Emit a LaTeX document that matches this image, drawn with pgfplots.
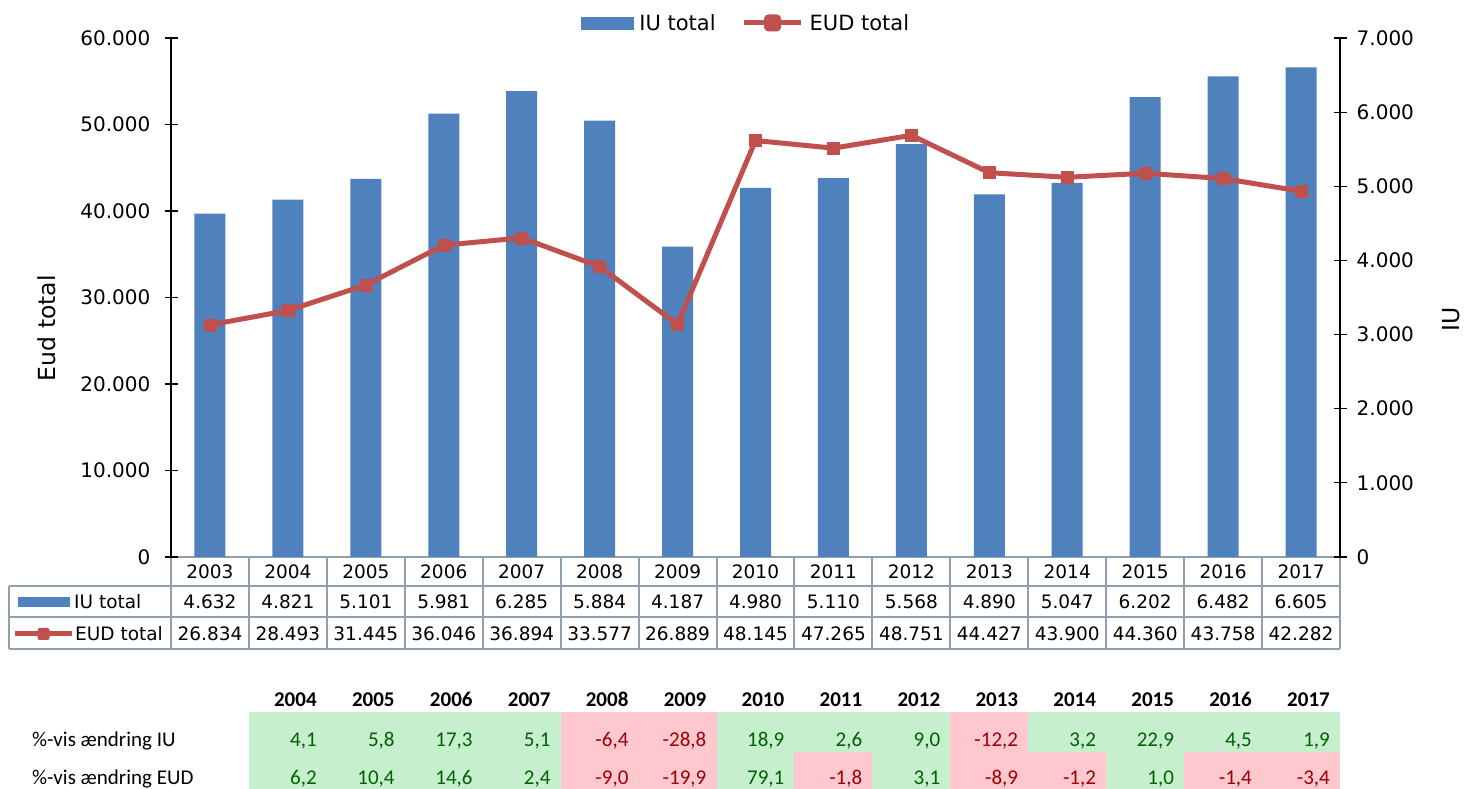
\documentclass[border=0pt]{standalone}
\usepackage{fontspec}
\setmainfont{DejaVu Sans}
\newfontfamily\calib{Carlito}
\usepackage{pgfplots}
\pgfplotsset{compat=1.18}
\definecolor{barblue}{HTML}{4F81BD}
\definecolor{linered}{HTML}{C0504D}
\definecolor{tgrid}{HTML}{8EA0B0}
\definecolor{gbg}{HTML}{C6EFCE}
\definecolor{gtx}{HTML}{006100}
\definecolor{rbg}{HTML}{FFC7CE}
\definecolor{rtx}{HTML}{9C0006}
\pgfplotsset{
  common/.style={
    at={(171pt,232pt)}, anchor=south west, scale only axis,
    width=1169pt, height=519pt,
    xmin=-0.5, xmax=14.5, ymin=0, hide x axis,
    tick align=center, major tick length=13pt,
    axis line style={black, line width=1.2pt},
    every tick/.style={black, line width=1.2pt},
    scaled y ticks=false,
    y tick label style={font=\fontsize{20}{24}\selectfont, inner sep=0pt,
      /pgf/number format/fixed, /pgf/number format/precision=0,
      /pgf/number format/1000 sep={.}, /pgf/number format/assume math mode=true},
  }
}
\begin{document}
\begin{tikzpicture}
\useasboundingbox (0,0) rectangle (1464pt,789pt);
% ---- percent change table ----
\begin{scope}[x=1pt,y=-1pt,yshift=789pt]
\foreach \v [count=\i] in {4.1,5.8,17.3,5.1,-6.4,-28.8,18.9,2.6,9.0,-12.2,3.2,22.9,4.5,1.9} {
  \pgfmathsetmacro\neg{\v<0 ? 1 : 0}
  \ifdim\neg pt>0.5pt \def\bg{rbg}\def\tx{rtx}\else\def\bg{gbg}\def\tx{gtx}\fi
  \fill[\bg] ({171+77.933*\i},712) rectangle ({171+77.933*(\i+1)},752);
  \node[anchor=base east, text=\tx, inner sep=0pt, font=\calib\fontsize{21}{25}\selectfont]
    at ({171+77.933*(\i+1)-10},746.5)
    {\pgfmathprintnumber[fixed,fixed zerofill,precision=1,use comma,assume math mode=true]{\v}};
}
\foreach \v [count=\i] in {6.2,10.4,14.6,2.4,-9.0,-19.9,79.1,-1.8,3.1,-8.9,-1.2,1.0,-1.4,-3.4} {
  \pgfmathsetmacro\neg{\v<0 ? 1 : 0}
  \ifdim\neg pt>0.5pt \def\bg{rbg}\def\tx{rtx}\else\def\bg{gbg}\def\tx{gtx}\fi
  \fill[\bg] ({171+77.933*\i},752) rectangle ({171+77.933*(\i+1)},800);
  \node[anchor=base east, text=\tx, inner sep=0pt, font=\calib\fontsize{21}{25}\selectfont]
    at ({171+77.933*(\i+1)-10},784.5)
    {\pgfmathprintnumber[fixed,fixed zerofill,precision=1,use comma,assume math mode=true]{\v}};
}
\foreach \y [count=\i] in {2004,2005,2006,2007,2008,2009,2010,2011,2012,2013,2014,2015,2016,2017} {
  \node[anchor=base east, inner sep=0pt, font=\calib\bfseries\fontsize{21}{25}\selectfont]
    at ({171+77.933*(\i+1)-10},706.5) {\y};
}
\node[anchor=base west, inner sep=0pt, font=\calib\fontsize{21}{25}\selectfont] at (32,746.5) {\%-vis ændring IU};
\node[anchor=base west, inner sep=0pt, font=\calib\fontsize{21}{25}\selectfont] at (32,784.5) {\%-vis ændring EUD};
% ---- data table ----
\foreach \y [count=\i from 0] in {2003,2004,2005,2006,2007,2008,2009,2010,2011,2012,2013,2014,2015,2016,2017} {
  \node[anchor=base, font=\fontsize{18.5}{22}\selectfont, inner sep=0pt] at ({171+77.933*(\i+0.5)},579) {\y};
}
\foreach \y [count=\i from 0] in {4.632,4.821,5.101,5.981,6.285,5.884,4.187,4.980,5.110,5.568,4.890,5.047,6.202,6.482,6.605} {
  \node[anchor=base, font=\fontsize{18.5}{22}\selectfont, inner sep=0pt] at ({171+77.933*(\i+0.5)},609) {\y};
}
\foreach \y [count=\i from 0] in {26.834,28.493,31.445,36.046,36.894,33.577,26.889,48.145,47.265,48.751,44.427,43.900,44.360,43.758,42.282} {
  \node[anchor=base, font=\fontsize{18.5}{22}\selectfont, inner sep=0pt] at ({171+77.933*(\i+0.5)},641) {\y};
}
\draw[tgrid, line width=2pt] (171,557) -- (1340,557);
\draw[tgrid, line width=2pt] (9,586) -- (1340,586);
\draw[tgrid, line width=2pt] (9,617) -- (1340,617);
\draw[tgrid, line width=2pt] (9,649) -- (1340,649);
\draw[tgrid, line width=2pt] (9,586) -- (9,649);
\foreach \k in {0,...,15} { \draw[tgrid, line width=2pt] ({171+77.933*\k},557) -- ({171+77.933*\k},649); }
\fill[barblue] (18,597) rectangle (70,607);
\node[anchor=base west, inner sep=0pt, font=\fontsize{18.5}{22}\selectfont] at (74,609) {IU total};
\draw[linered, line width=5pt] (15,634) -- (72,634);
\fill[linered, rounded corners=2pt] (37.5,628) rectangle (49.5,640);
\node[anchor=base west, inner sep=0pt, font=\fontsize{18.5}{22}\selectfont] at (75,641) {EUD total};
\end{scope}
% ---- bars on the right axis ----
\begin{axis}[common, ymax=7000, axis y line*=right, ybar, bar width=31pt,
  ytick={0,1000,...,7000},
  ylabel={IU},
  ylabel style={at={(axis description cs:1.095,0.457)}, anchor=center, font=\fontsize{23.5}{28}\selectfont},
  yticklabel style={xshift=10pt}]
\addplot[fill=barblue, draw=none] coordinates {
 (0,4632) (1,4821) (2,5101) (3,5981) (4,6285) (5,5884) (6,4187) (7,4980)
 (8,5110) (9,5568) (10,4890) (11,5047) (12,6202) (13,6482) (14,6605)};
\end{axis}
% ---- line on the left axis ----
\begin{axis}[common, ymax=60000, axis y line*=left,
  ytick={0,10000,...,60000},
  ylabel={Eud total},
  ylabel style={at={(axis description cs:-0.1065,0.441)}, anchor=center, font=\fontsize{23.5}{28}\selectfont},
  yticklabel style={xshift=-14pt},
  legend style={at={(axis description cs:0.3507,1.029)}, anchor=west, draw=none, fill=none,
    inner sep=0pt, outer sep=0pt, legend columns=2, font=\fontsize{21}{25}\selectfont,
    column sep=6pt, /tikz/every even column/.append style={column sep=26pt},
    nodes={inner sep=0pt}},
  legend cell align=left]
\addlegendimage{legend image code/.code={\fill[barblue] (0pt,-6pt) rectangle (52pt,6pt);}}
\addlegendentry{IU total}
\addplot[linered, line width=5pt, line join=round, mark=square*,
  mark size=6pt, mark options={solid, fill=linered, line width=0.5pt, rounded corners=2pt},
  legend image code/.code={\draw[linered, line width=5pt] (0pt,0pt) -- (57pt,0pt);
    \fill[linered, rounded corners=2pt] (22.5pt,-6pt) rectangle (34.5pt,6pt);}]
 coordinates {
 (0,26834) (1,28493) (2,31445) (3,36046) (4,36894) (5,33577) (6,26889) (7,48145)
 (8,47265) (9,48751) (10,44427) (11,43900) (12,44360) (13,43758) (14,42282)};
\addlegendentry{EUD total}
\end{axis}
\end{tikzpicture}
\end{document}
